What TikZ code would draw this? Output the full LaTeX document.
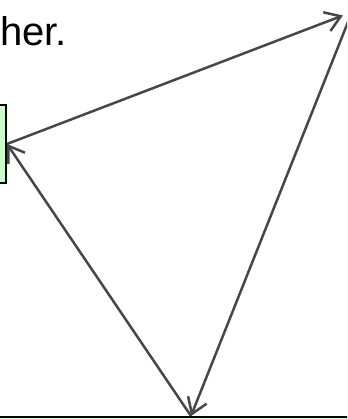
\documentclass[tikz,border=0pt]{standalone}
\usepackage{fontspec}
\setmainfont{Liberation Sans}
\usepackage{tikz}
\usetikzlibrary{arrows.meta,positioning}

\definecolor{boxgreen}{HTML}{CCFFCC}
\definecolor{linkgray}{HTML}{474747}

\tikzset{
  box/.style={draw=black, line width=2pt, fill=boxgreen, inner sep=0pt},
  link/.style={draw=linkgray, line width=2.5pt, -{Straight Barb[length=15pt,width=20pt]}}
}

\begin{document}
\begin{tikzpicture}[x=1pt, y=-1pt]
  \useasboundingbox (0,0) rectangle (347,419);
  \clip (0,0) rectangle (347,419);
  \node (cap) [anchor=base west, inner sep=0pt, font=\fontsize{40}{48}\selectfont] at (0,46) {her.};
  \node (hold) [box, minimum width=30pt, minimum height=78pt, anchor=east] at (7,144) {};
  \node (base) [box, minimum width=400pt, minimum height=40pt, anchor=north] at (191,416) {};
  \node (peak) [circle, minimum size=19pt, inner sep=0pt] at (352,12) {};
  \draw[link] (hold.east) -- (peak);
  \draw[link] (peak) -- (base.north);
  \draw[link] (base.north) -- (hold.east);
\end{tikzpicture}
\end{document}
